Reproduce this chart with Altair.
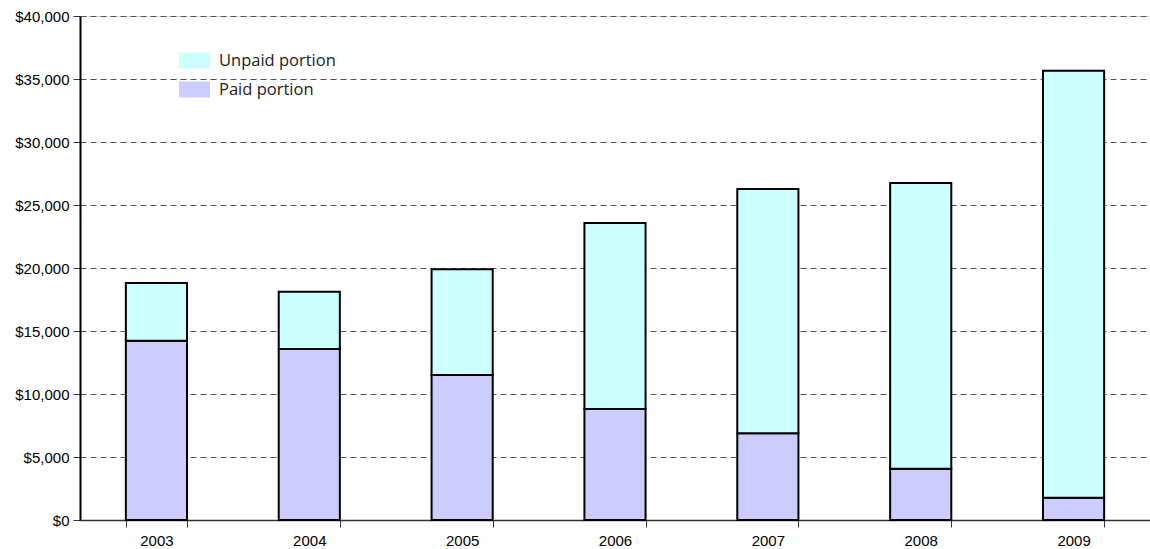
import altair as alt
import pandas as pd

years = ["2003", "2004", "2005", "2006", "2007", "2008", "2009"]
paid = [14230, 13570, 11500, 8800, 6880, 4070, 1770]
total = [18800, 18120, 19900, 23570, 26270, 26750, 35650]
unpaid = [t - p for t, p in zip(total, paid)]
series = ["Unpaid portion", "Paid portion"]
colors = ["#CCFFFF", "#CCCCFF"]
y_ticks = list(range(0, 40001, 5000))

rows = []
for y, p, u in zip(years, paid, unpaid):
    rows.append({"year": y, "series": "Paid portion", "value": p, "ord": 0})
    rows.append({"year": y, "series": "Unpaid portion", "value": u, "ord": 1})
df = pd.DataFrame(rows)

chart = alt.Chart(df).mark_bar(stroke="black", strokeWidth=2).encode(
    x=alt.X("year:N", title=None,
            scale=alt.Scale(paddingInner=0.6, paddingOuter=0.3),
            axis=alt.Axis(labelAngle=0, tickBand="extent", tickSize=7,
                          tickColor="#333", domainColor="#333", domainWidth=1.5,
                          labelPadding=6, labelFont="Liberation Sans",
                          labelFontSize=15, labelColor="black", grid=False)),
    y=alt.Y("value:Q", title=None, stack="zero",
            scale=alt.Scale(domain=[0, 40000], nice=False),
            axis=alt.Axis(values=y_ticks, format="$,d", tickSize=7,
                          tickColor="#333", domainColor="black", domainWidth=2,
                          labelPadding=4, labelFont="Liberation Sans",
                          labelFontSize=15, labelColor="black",
                          grid=True, gridDash=[6, 4], gridColor="#555",
                          gridWidth=1)),
    color=alt.Color("series:N",
                    scale=alt.Scale(domain=series, range=colors),
                    legend=alt.Legend(title=None, orient="none", legendX=100,
                                      legendY=30, symbolType="M-1.07,-0.55H1.07V0.55H-1.07Z",
                                      symbolSize=841, symbolStrokeWidth=0,
                                      symbolOpacity=1, labelFont="Open Sans",
                                      labelFontSize=16.5, labelColor="#222",
                                      labelOffset=10, rowPadding=6)),
    order=alt.Order("ord:Q"),
).properties(
    width=1070, height=504,
    autosize=alt.AutoSizeParams(type="none"),
    padding={"left": 80, "top": 16, "right": 0, "bottom": 29},
).configure_view(stroke=None).configure(background="white")

chart.save("out.html", embed_options={"renderer": "svg", "actions": False})
